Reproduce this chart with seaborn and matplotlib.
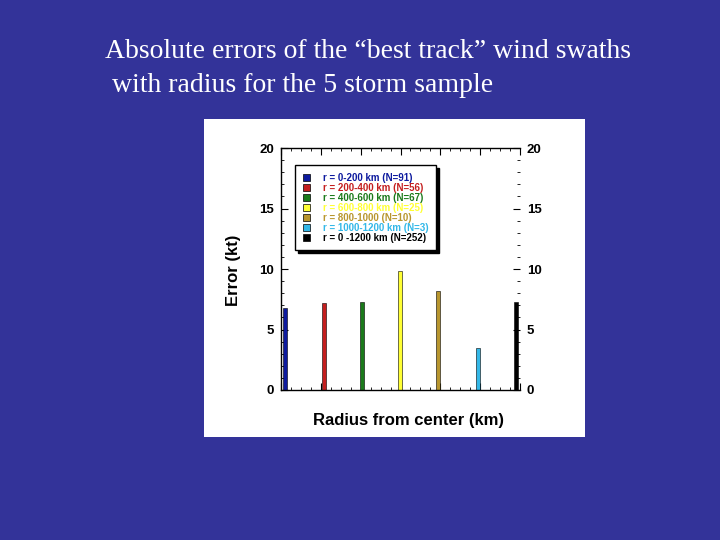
import pandas as pd
import seaborn as sns
import matplotlib.pyplot as plt
from matplotlib.patches import Rectangle, Patch
from matplotlib.ticker import MultipleLocator

# valores
faixas = ["r = 0-200 km (N=91)", "r = 200-400 km (N=56)", "r = 400-600 km (N=67)",
          "r = 600-800 km (N=25)", "r = 800-1000 (N=10)", "r = 1000-1200 km (N=3)",
          "r = 0 -1200 km (N=252)"]
raio = [22, 216, 408, 598, 790, 990, 1180]
erro = [6.75, 7.15, 7.25, 9.8, 8.2, 3.45, 7.25]
cores = ["#0d1a9e", "#c41e1e", "#1b7a1b", "#ffff33", "#b8962e", "#33b8e8", "#000000"]

titulo1 = "Absolute errors of the \u201cbest track\u201d wind swaths"
titulo2 = " with radius for the 5 storm sample"

df = pd.DataFrame({"raio": raio, "erro": erro, "faixa": faixas})

sns.set_style("ticks", {"text.color": "black", "axes.labelcolor": "black",
                        "xtick.color": "black", "ytick.color": "black",
                        "axes.edgecolor": "black"})
plt.rcParams["font.family"] = ["Liberation Sans", "DejaVu Sans"]

fig = plt.figure(figsize=(7.2, 5.4), dpi=100, facecolor="#333399")

# painel branco atras do grafico
fig.patches.append(Rectangle((204 / 720, 1 - 437 / 540), 381 / 720, 318 / 540,
                             transform=fig.transFigure, facecolor="white",
                             edgecolor="none", zorder=-5))

fig.text(105 / 720, 1 - 58 / 540, titulo1, color="white", fontsize=20,
         family="Liberation Serif", va="baseline")
fig.text(105 / 720, 1 - 92 / 540, titulo2, color="white", fontsize=20,
         family="Liberation Serif", va="baseline")

ax = fig.add_axes([281 / 720, 1 - 390 / 540, 239 / 720, 242 / 540])
ax.set_facecolor("white")

sns.barplot(data=df, x="raio", y="erro", hue="faixa", palette=cores,
            saturation=1, native_scale=True, dodge=False, width=0.11,
            edgecolor="black", linewidth=0.4, legend=False, ax=ax)

ax.set_xlim(0, 1200)
ax.set_ylim(0, 20)
ax.spines["right"].set_visible(False)
ax.spines["top"].set_visible(True)
for s in ["left", "bottom", "top"]:
    ax.spines[s].set_linewidth(1.0)
    ax.spines[s].set_color("black")

ax.yaxis.set_major_locator(MultipleLocator(5))
ax.yaxis.set_minor_locator(MultipleLocator(1))
ax.xaxis.set_major_locator(MultipleLocator(200))
ax.xaxis.set_minor_locator(MultipleLocator(50))
ax.tick_params(axis="y", which="both", left=True, right=True, labelleft=True,
               labelright=True, direction="in", labelsize=9.5, pad=5,
               colors="black")
ax.tick_params(axis="y", which="major", length=5)
ax.tick_params(axis="y", which="minor", length=2.5)
ax.tick_params(axis="x", which="both", bottom=True, top=True, labelbottom=False,
               direction="in", colors="black")
ax.tick_params(axis="x", which="major", length=5)
ax.tick_params(axis="x", which="minor", length=2.5)
for lab in ax.get_yticklabels():
    lab.set_fontweight("bold")

ax.set_xlabel("Radius from center (km)", fontsize=12, fontweight="bold",
              color="black")
ax.set_ylabel("Error (kt)", fontsize=12, fontweight="bold", color="black")
ax.xaxis.set_label_coords(0.534, -0.095)
ax.yaxis.set_label_coords(-0.169, 0.496)

handles = [Patch(facecolor=c, edgecolor="black", linewidth=0.5) for c in cores]
leg = ax.legend(handles, faixas, loc="upper left", bbox_to_anchor=(0.06, 0.93),
                fontsize=7, labelcolor=cores, frameon=True, fancybox=False,
                edgecolor="black", framealpha=1,
                shadow={"color": "black", "alpha": 1},
                handlelength=0.75, handleheight=0.7, handletextpad=1.25,
                labelspacing=0.0, borderpad=0.8, borderaxespad=0)
leg.get_frame().set_linewidth(1.0)
for t in leg.get_texts():
    t.set_fontweight("bold")

plt.savefig("out.png", dpi=100, facecolor=fig.get_facecolor())
